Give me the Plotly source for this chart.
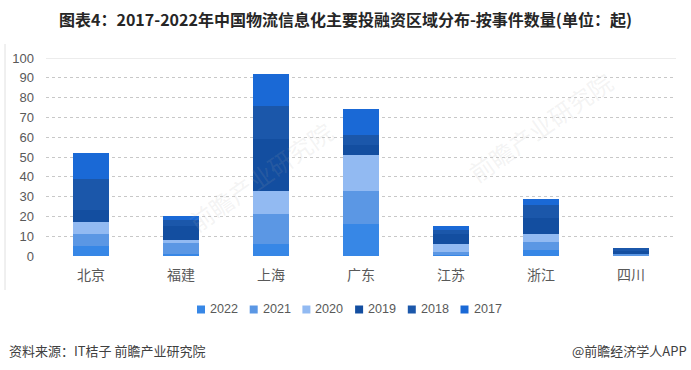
import plotly.graph_objects as go

categories = ["北京", "福建", "上海", "广东", "江苏", "浙江", "四川"]
years = ["2022", "2021", "2020", "2019", "2018", "2017"]
v2022 = [5, 1, 6, 16, 1, 3, 0]
v2021 = [6, 6, 15, 17, 1, 4, 1]
v2020 = [6, 1, 12, 18, 4, 4, 0]
v2019 = [6, 7, 26, 5, 5, 8, 2]
v2018 = [16, 3, 17, 5, 2, 7, 1]
v2017 = [13, 2, 16, 13, 2, 3, 0]
yticks = [0, 10, 20, 30, 40, 50, 60, 70, 80, 90, 100]

series = [v2022, v2021, v2020, v2019, v2018, v2017]
colors = ["#3787e6", "#5b97e4", "#92baf2", "#134ea0", "#1b57aa", "#1a69d6"]

cjk = "Noto Sans CJK SC"
latin = "Liberation Sans, Noto Sans CJK SC"

W, H = 691, 370
ML, MR, MT, MB = 46, 15, 58, 114
PW, PH = W - ML - MR, H - MT - MB


def px_x(p):
    return (p - ML) / PW


def px_y(p):
    return (H - MB - p) / PH


fig = go.Figure()
for name, vals, c in zip(years, series, colors):
    fig.add_trace(go.Bar(x=categories, y=vals, name=name, marker=dict(color=c, line=dict(width=0))))

fig.update_layout(
    barmode="stack",
    bargap=0.6,
    width=W, height=H,
    margin=dict(l=ML, r=MR, t=MT, b=MB),
    paper_bgcolor="white", plot_bgcolor="white",
    font=dict(family=latin, size=13, color="#595959"),
    title=dict(text="<b>图表4：2017-2022年中国物流信息化主要投融资区域分布-按事件数量(单位：起)</b>",
               x=0.5, xanchor="center", y=0.945, yanchor="middle",
               font=dict(family=cjk, size=16, color="#262626")),
    showlegend=False,
    xaxis=dict(showgrid=False, showline=False, ticks="",
               tickfont=dict(family=cjk, size=14, color="#595959"), ticklabelstandoff=9),
    yaxis=dict(range=[0, 100], tickvals=yticks, showgrid=True, gridcolor="#c8c8c8",
               griddash="dot", gridwidth=1, zeroline=False, ticks="",
               tickfont=dict(family=latin, size=13, color="#595959"), ticklabelstandoff=11),
)
# solid top gridline
fig.add_shape(type="line", xref="paper", yref="y", x0=0, x1=1, y0=100, y1=100,
              line=dict(color="#d9d9d9", width=1))
# left frame line
fig.add_shape(type="line", xref="paper", yref="paper", x0=px_x(5), x1=px_x(5), y0=px_y(290), y1=px_y(44),
              line=dict(color="#e0e0e0", width=1))

# legend (compact, like the reference)
leg_left, leg_pitch, sq = 197, 52.7, 8
leg_cy = 309.5
for i, (name, c) in enumerate(zip(years, colors)):
    x0 = leg_left + i * leg_pitch
    fig.add_shape(type="rect", xref="paper", yref="paper",
                  x0=px_x(x0), x1=px_x(x0 + sq), y0=px_y(leg_cy + sq / 2), y1=px_y(leg_cy - sq / 2),
                  fillcolor=c, line=dict(width=0))
    fig.add_annotation(text=name, xref="paper", yref="paper", x=px_x(x0 + sq + 3), xanchor="left",
                       y=px_y(leg_cy - 0.5), yanchor="middle", showarrow=False,
                       font=dict(family=latin, size=12.6, color="#595959"))

# faint watermarks
for cx, cy in [(178, 176), (622, 126)]:
    fig.add_annotation(text="前瞻产业研究院", xref="paper", yref="paper", x=px_x(cx), y=px_y(cy),
                       showarrow=False, textangle=-35,
                       font=dict(family=cjk, size=24, color="rgba(170,170,170,0.14)"))

fig.add_annotation(text="资料来源：IT桔子 前瞻产业研究院", xref="paper", yref="paper",
                   x=px_x(7), xanchor="left", y=px_y(350), yanchor="middle", showarrow=False,
                   font=dict(family=cjk, size=13, color="#404040"))
fig.add_annotation(text="@前瞻经济学人APP", xref="paper", yref="paper",
                   x=px_x(689), xanchor="right", y=px_y(350), yanchor="middle", showarrow=False,
                   font=dict(family=cjk, size=13, color="#404040"))
fig.write_html("out.html", config={"displayModeBar": False},
               post_script="document.body.style.margin='0';")
